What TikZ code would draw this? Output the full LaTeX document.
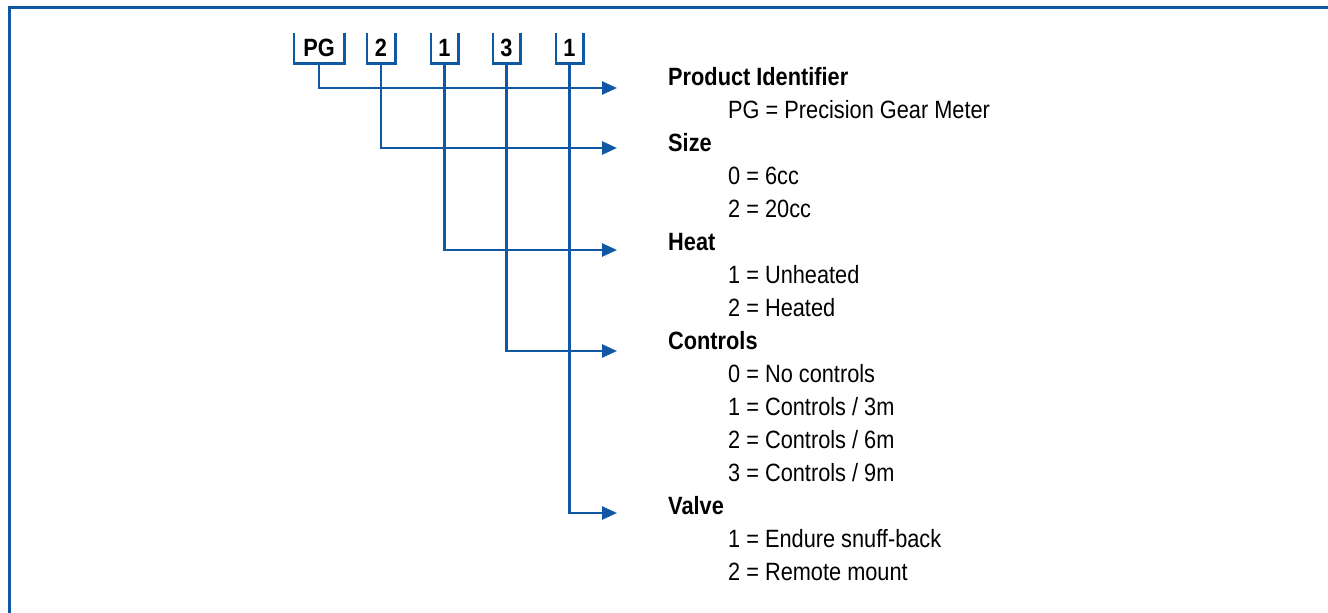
\documentclass[tikz,border=0pt]{standalone}
\usepackage{fontspec}
\setmainfont[FakeStretch=0.87]{Liberation Sans}
\usetikzlibrary{arrows.meta}
\definecolor{codeblue}{RGB}{16,88,164}

\begin{document}
\begin{tikzpicture}%
  [x=1pt,y=-1pt,font=\fontsize{25}{29}\selectfont]
  \tikzstyle{code box}=[inner sep=0,minimum height=30,font=\fontsize{25}{29}\selectfont\bfseries]
  \tikzstyle{bracket}=[draw=codeblue,line width=2.6]
  \tikzstyle{head}=[anchor=base west,inner sep=0,font=\fontsize{25}{29}\selectfont\bfseries]
  \tikzstyle{item}=[anchor=base west,inner sep=0]
  \tikzstyle{link}=[draw=codeblue,line width=2.6,-{Triangle[length=15,width=13]},shorten >=51]
  \useasboundingbox (0,0) rectangle (1328,613);
  \draw[codeblue,line width=3] (9.5,613) -- (9.5,7) -- (1328,7);
  % model code
  \foreach \n/\t/\x/\w in {bpg/PG/319/50,bsize/2/381/28,bheat/1/444.5/27,
      bctrl/3/506.5/27,bvalve/1/569.5/27}{
    \node[code box,minimum width=\w](\n) at (\x,48){\t};
    \draw[bracket] (\n.north west) |- (\n.south east) -- (\n.north east);
  }
  % legend
  \node[head](prod) at (668,85){Product Identifier};
  \node[item](prod1) at (728,118){PG = Precision Gear Meter};
  \node[head](size) at (668,151){Size};
  \node[item](size0) at (728,184){0 = 6cc};
  \node[item](size2) at (728,217){2 = 20cc};
  \node[head](heat) at (668,250){Heat};
  \node[item](heat1) at (728,283){1 = Unheated};
  \node[item](heat2) at (728,316){2 = Heated};
  \node[head](ctrl) at (668,349){Controls};
  \node[item](ctrl0) at (728,382){0 = No controls};
  \node[item](ctrl1) at (728,415){1 = Controls / 3m};
  \node[item](ctrl2) at (728,448){2 = Controls / 6m};
  \node[item](ctrl3) at (728,481){3 = Controls / 9m};
  \node[head](valve) at (668,514){Valve};
  \node[item](valve1) at (728,547){1 = Endure snuff-back};
  \node[item](valve2) at (728,580){2 = Remote mount};
  % connectors
  \draw[link] (bpg.south) |- ([yshift=-3]prod.base west);
  \draw[link] (bsize.south) |- ([yshift=3]size.base west);
  \draw[link] (bheat.south) |- (heat.base west);
  \draw[link] (bctrl.south) |- ([yshift=-2]ctrl.base west);
  \draw[link] (bvalve.south) |- ([yshift=1]valve.base west);
\end{tikzpicture}
\end{document}
